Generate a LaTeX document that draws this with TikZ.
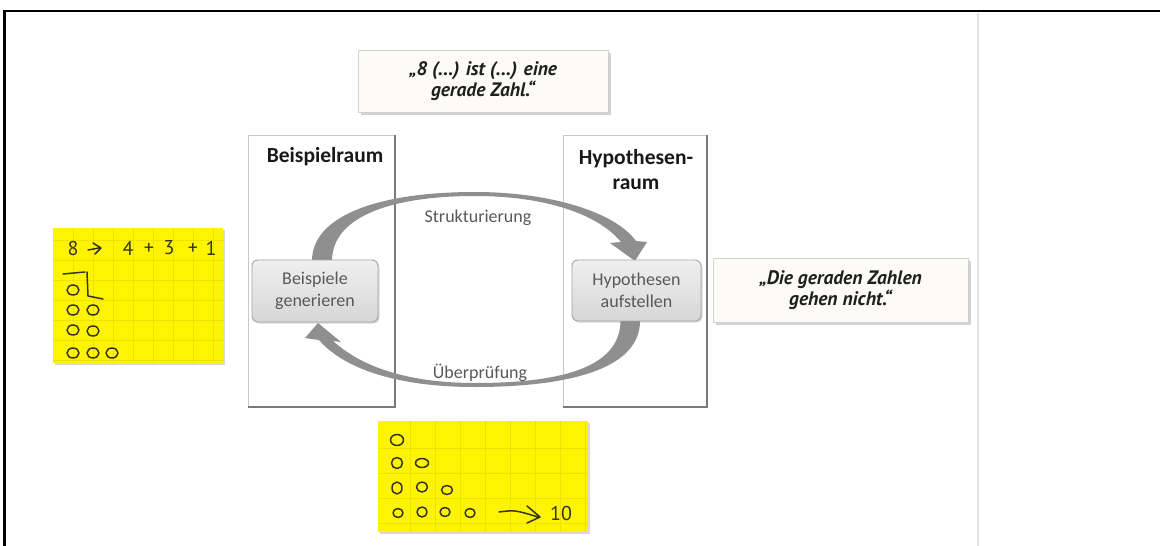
\documentclass[tikz,border=0pt]{standalone}
\usepackage{fontspec}
\setmainfont{Carlito}
\newfontfamily\hand{PT Sans}
\usetikzlibrary{shadows,calc}
\definecolor{arrowgray}{HTML}{8F8F8F}
\definecolor{panelline}{HTML}{C8C8C8}
\definecolor{paneldark}{HTML}{7A7A7A}
\definecolor{boxline}{HTML}{A4A4A4}
\definecolor{boxtext}{HTML}{595959}
\definecolor{quotefill}{HTML}{FCFBF7}
\definecolor{notey}{HTML}{FFF400}
\definecolor{gridy}{HTML}{EDE300}
\definecolor{pen}{HTML}{35351E}
\definecolor{vline}{HTML}{E2E2E2}
\tikzset{
  panel/.style={draw=panelline, line width=1, fill=white, inner sep=0, outer sep=0},
  darkedge/.style={draw=paneldark, line width=1.8},
  title/.style={font=\bfseries\fontsize{21.5}{25}\selectfont, text=black!90, align=center, inner sep=0},
  stepbox/.style={draw=boxline, line width=0.9, rounded corners=6, top color=black!6, bottom color=black!16,
    text=boxtext, align=center, inner sep=0, outer sep=0, font=\fontsize{18}{22}\selectfont,
    drop shadow={opacity=0.3, shadow xshift=1.5pt, shadow yshift=-1.5pt}},
  quote/.style={draw=black!18, line width=0.8, fill=quotefill, inner sep=0, outer sep=0, align=center,
    font=\hand\bfseries\itshape\fontsize{19.5}{21}\selectfont, text=black!88,
    drop shadow={opacity=0.35, shadow xshift=2.5pt, shadow yshift=-2.5pt}},
  lbl/.style={font=\fontsize{18}{22}\selectfont, text=boxtext, inner sep=0},
  note/.style={fill=notey, inner sep=0, outer sep=0,
    drop shadow={opacity=0.3, shadow xshift=2pt, shadow yshift=-2pt}},
  penline/.style={draw=pen, line width=1.5, line cap=round, line join=round},
  handtxt/.style={font=\hand\fontsize{20}{22}\selectfont, text=pen, inner sep=0},
  gridline/.style={draw=gridy, line width=0.5}
}
\begin{document}
\begin{tikzpicture}[x=1pt,y=-1pt]
\useasboundingbox (0,0) rectangle (1160,546);
\fill[white] (0,0) rectangle (1160,546);
% frame
\draw[line width=2.5] (4.5,546) -- (4.5,11) -- (1160,11);
\draw[vline, line width=1.5] (978,13) -- (978,546);

% panels
\node[panel, minimum width=147, minimum height=272] (bp) at (321.5,271) {};
\node[panel, minimum width=144, minimum height=272] (hp) at (635,271) {};
\draw[darkedge] (bp.north east) -- (bp.south east) -- (bp.south west);
\draw[darkedge] (hp.north east) -- (hp.south east) -- (hp.south west);
\node[title] (bpt) at (325,157) {Beispielraum};
\node[title] (hpt) at (636,170) {Hypothesen-\\raum};

\path (315,291) coordinate (bgc) (636.5,290.5) coordinate (hac);

% arrows
\fill[arrowgray] (312,261) .. controls (312,215) and (380,192) .. (475,192)
  .. controls (550,192) and (615,212) .. (636,241) -- (647,242) -- (635,261) -- (610,243) -- (621,242)
  .. controls (598,214) and (545,196) .. (475,196)
  .. controls (395,196) and (332,215) .. (332,261) -- cycle;
\fill[arrowgray] (640,321) .. controls (640,372) and (560,387) .. (475,387)
  .. controls (400,387) and (345,370) .. (319,340) -- (305,338) -- (318,323) -- (341,342) -- (333,341)
  .. controls (365,370) and (415,383) .. (475,383)
  .. controls (560,383) and (620,368) .. (620.5,321) -- cycle;

\node[stepbox, minimum width=126, minimum height=62] (bg) at (bgc) {Beispiele\\generieren};
\node[stepbox, minimum width=129, minimum height=61] (ha) at (hac) {Hypothesen\\aufstellen};

\node[lbl] (s) at (478,218) {Strukturierung};
\node[lbl] (u) at (480,373) {Überprüfung};

% quotes
\node[quote, minimum width=250, minimum height=62] (q1) at (483,81) {„8 (...) ist (...) eine\\gerade Zahl.“};
\node[quote, minimum width=255, minimum height=64] (q2) at (840.5,290) {„Die geraden Zahlen\\gehen nicht.“};

% left note
\node[note, minimum width=170, minimum height=135] (n1) at (138,295.5) {};
\begin{scope}
\clip (n1.north west) rectangle (n1.south east);
\foreach \x in {73,93,...,213} \draw[gridline] (\x,228) -- (\x,363);
\foreach \y in {240,260,...,360} \draw[gridline] (53,\y) -- (223,\y);
\end{scope}
\node[handtxt] (e8) at (73,248) {8};
\draw[penline] (88,250) -- (99,248) (93,243) -- (101,248) -- (95,254);
\node[handtxt] (e4) at (128,248) {4};
\node[handtxt] (p1) at (149,249) {+};
\node[handtxt] (e3) at (169,248) {3};
\node[handtxt] (p2) at (193,249) {+};
\node[handtxt] (e1) at (211,248) {1};
\draw[penline] (63,274) -- (85,272) (87,272) -- (88,296) -- (103,299);
\foreach \p in {(73,290),(73,310),(93,310),(73,330),(93,331),(73,353),(93,353),(112,353)}
  \draw[penline] \p ellipse [x radius=6pt, y radius=5pt];

% bottom note
\node[note, minimum width=210, minimum height=111] (n2) at (483,476.5) {};
\begin{scope}
\clip (n2.north west) rectangle (n2.south east);
\foreach \x in {410,435,...,585} \draw[gridline] (\x,421) -- (\x,532);
\foreach \y in {448,473,498,523} \draw[gridline] (378,\y) -- (588,\y);
\end{scope}
\draw[penline] (397,440) ellipse [x radius=6.5pt, y radius=5.5pt];
\draw[penline] (397,463) ellipse [x radius=5.5pt, y radius=5.5pt];
\draw[penline] (422,463) ellipse [x radius=6.5pt, y radius=4.5pt];
\draw[penline] (397,488) ellipse [x radius=5pt, y radius=6pt];
\draw[penline] (422,487) ellipse [x radius=5.5pt, y radius=5pt];
\draw[penline] (447,490) ellipse [x radius=5.5pt, y radius=4.5pt];
\draw[penline] (398,513) ellipse [x radius=5pt, y radius=4.5pt];
\draw[penline] (422,512) ellipse [x radius=5pt, y radius=5pt];
\draw[penline] (445,512) ellipse [x radius=5pt, y radius=4.5pt];
\draw[penline] (470,513) ellipse [x radius=5pt, y radius=4.5pt];
\draw[penline] (499,512) .. controls (515,510) .. (538,517) (527,506) -- (540,517) -- (527,523);
\node[handtxt] (ten) at (561,513) {10};
\end{tikzpicture}
\end{document}
